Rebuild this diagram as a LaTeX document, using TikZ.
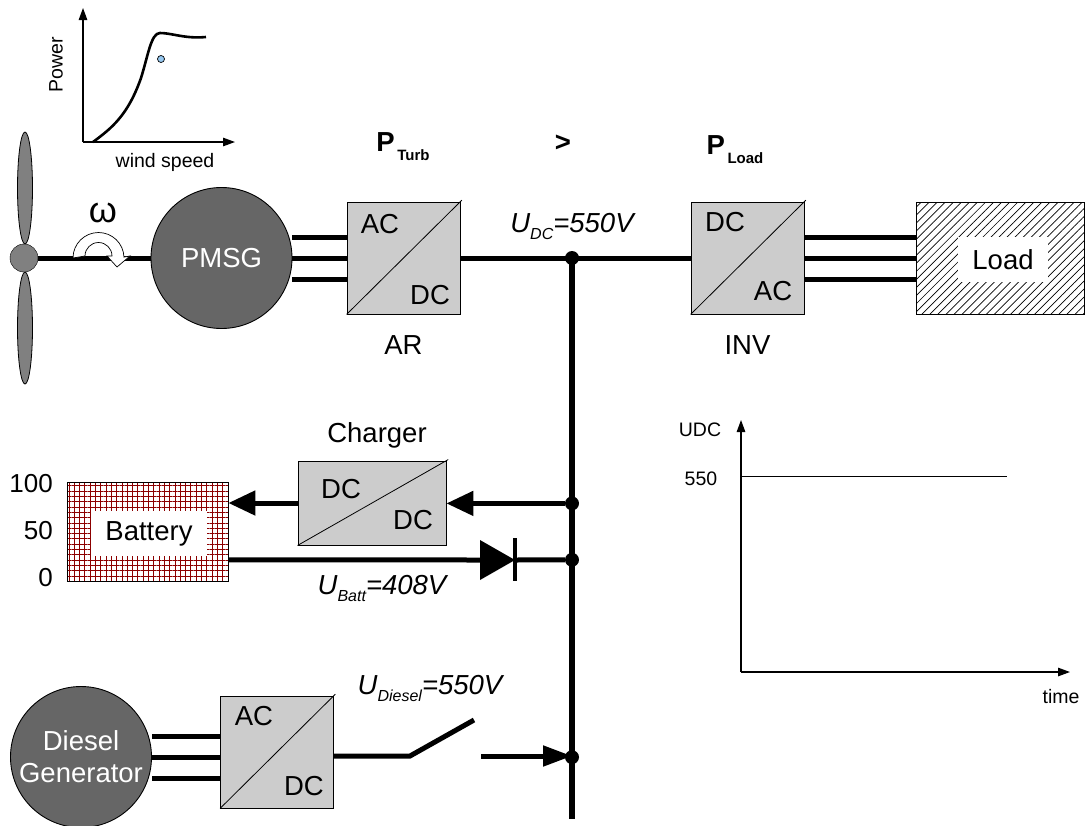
\documentclass[tikz,border=0pt]{standalone}
\usepackage{fontspec}
\setmainfont{Liberation Sans}
\usetikzlibrary{arrows.meta,patterns.meta,backgrounds,positioning}
\definecolor{mppblue}{RGB}{150,200,240}
\newcommand{\bigtxt}{\fontsize{27.5}{32}\selectfont}
\newcommand{\smalltxt}{\fontsize{19.5}{23}\selectfont}
\newcommand{\voltlbl}[3]{{\bigtxt\itshape #1\raisebox{-7pt}{\fontsize{16}{18}\selectfont #2}#3}}
\newcommand{\powerlbl}[2]{{\bfseries\bigtxt #1\raisebox{-9pt}{\fontsize{15}{18}\selectfont\,#2}}}

\begin{document}
\begin{tikzpicture}[
x=1pt,y=-1pt,
conv/.style={rectangle, draw, fill=black!20, line width=0.9pt, inner sep=0pt, minimum width=113pt, minimum height=112pt},
machine/.style={circle, draw, fill=black!60, line width=0.9pt, inner sep=0pt, minimum size=141pt, text=white, align=center, font=\bigtxt},
blade/.style={draw, fill=black!50, line width=0.8pt},
wire/.style={line width=5pt},
power/.style={line width=5pt, arrows={-Triangle[length=27pt,width=24pt]}},
junction/.style={circle, fill=black, inner sep=0pt, minimum size=14pt},
axis/.style={line width=1.2pt, arrows={-Triangle[length=12pt,width=8.5pt]}},
txt/.style={inner sep=0pt, font=\bigtxt},
small/.style={inner sep=0pt, font=\smalltxt}]
\useasboundingbox (0,0) rectangle (1086,825);
% Turbine
\fill[blade] (25,188) ellipse [x radius=7.5, y radius=56];
\fill[blade] (25,328) ellipse [x radius=7.5, y radius=56];
\node[circle, draw, fill=black!50, inner sep=0pt, minimum size=28pt] (hub) at (24,258) {};
\node[machine] (pmsg) at (221.5,258) {PMSG};
\node[conv] (ar) at (403.5,258) {};
\node[conv] (inv) at (747.5,258) {};
\node[rectangle, draw, line width=0.9pt, pattern={Lines[angle=45,distance=5.7pt,line width=0.7pt]}, inner sep=0pt, minimum width=168pt, minimum height=112pt] (load) at (1000,258) {};
\node[txt, fill=white, minimum width=90pt, minimum height=45pt] (loadname) at (1003,259.5) {Load};
% DC bus
\node[junction] (j1) at (572,258) {};
\node[junction] (j2) [below=231pt of j1] {};
\node[junction] (j3) [below=42pt of j2] {};
\node[junction] (j4) [below=183pt of j3] {};
\coordinate (busend) at (572,819);
\draw[line width=6pt] (j1.center) -- (busend);
% Battery and charger
\node[conv, minimum width=148pt, minimum height=84pt] (chg) at (372,503) {};
\node[rectangle, draw, line width=0.9pt, pattern={Hatch[angle=0,distance=5.3pt,line width=0.8pt]}, pattern color=red!55!black, inner sep=0pt, minimum width=161pt, minimum height=99pt] (bat) at (147.5,531.5) {};
\node[txt, fill=white, minimum width=116pt, minimum height=45pt] (batname) at (149,533.5) {Battery};
% Diesel
\node[machine] (gen) at (81,757) {Diesel\\Generator};
\node[conv] (dcv) at (277,752) {};
\coordinate (sw1) at (410,756);
\coordinate (sw2) at (474,720);
\coordinate (sw3) at (481,756);
% Diode
\coordinate (dioa) at (480,560);
\coordinate (diok) at (515,560);
% Lines
\foreach \dy in {-21,0,21} {
  \draw[wire] ([yshift=\dy pt]ar.west -| pmsg.east) -- ([yshift=\dy pt]ar.west);
  \draw[wire] ([yshift=\dy pt]inv.east) -- ([yshift=\dy pt]load.west);
  \draw[wire] ([yshift=\dy pt]dcv.west |- gen.center) -- ([yshift=\dy pt]gen.east);
}
\begin{scope}[on background layer]
\draw[wire] (hub) -- (pmsg);
\end{scope}
\draw[wire] (ar) -- (inv);
\draw[power] (j2) -- (chg.east |- j2);
\draw[power] (chg.west) -- (bat.east |- chg.west);
\draw[wire] (bat.east |- j3) -- (dioa);
\draw[wire] (diok) -- (j3);
\fill (480,540) -- (diok) -- (480,580) -- cycle;
\draw[line width=4pt] (515,538) -- (515,581);
\draw[wire] (dcv.east |- sw1) -- (sw1) -- (sw2);
\draw[power, arrows={-Triangle[length=29pt,width=20pt]}] (sw3) -- (sw3 -| j4);
% Diagonals
\foreach \c in {ar,inv,chg,dcv}
  \draw[line width=0.8pt, shorten >=-2pt] (\c.south west) -- (\c.north east);
% Rotation arrow
\draw[fill=white, line width=0.7pt] (73,258) arc [start angle=180, end angle=358, radius=25.5] -- (130,256) -- (117,267) -- (107,256) -- (112,256) arc [start angle=360, end angle=180, radius=13.5] -- cycle;
\node[inner sep=0pt, font=\fontsize{36}{40}\selectfont] (omega) at (103,213) {ω};
% Converter texts
\node[txt] (arac) at (380,224) {AC};
\node[txt] (ardc) at (430,295) {DC};
\node[txt] (invdc) at (725,222) {DC};
\node[txt] (invac) at (773,291) {AC};
\node[txt] (chg1) at (341,489) {DC};
\node[txt] (chg2) at (413,520) {DC};
\node[txt] (dcvac) at (254,716) {AC};
\node[txt] (dcvdc) at (304,786) {DC};
\node[txt] (arname) [below=21pt of ar] {AR};
\node[txt] (invname) [below=21pt of inv] {INV};
\node[txt] (chgname) at (377,435) {Charger};
\node[txt, anchor=east, font=\fontsize{26}{30}\selectfont] (s100) at (53,484) {100};
\node[txt, anchor=east, font=\fontsize{26}{30}\selectfont] (s50) at (53,531) {50};
\node[txt, anchor=east, font=\fontsize{26}{30}\selectfont] (s0) at (53,578) {0};
% Power and voltage labels
\node[txt] (pturb) at (403,147) {\powerlbl{P}{Turb}};
\node[txt] (gt) at (563,143) {\bfseries >};
\node[txt] (pload) at (735,150) {\powerlbl{P}{Load}};
\node[txt] (udc) at (572,226) {\voltlbl{U}{DC}{=550V}};
\node[txt] (ubatt) at (382,588) {\voltlbl{U}{Batt}{=408V}};
\node[txt] (udiesel) at (430,688) {\voltlbl{U}{Diesel}{=550V}};
% Turbine curve
\coordinate (o1) at (83,142);
\coordinate (y1) at (83,8);
\coordinate (x1) at (235,142);
\draw[axis] (o1) -- (y1);
\draw[axis] (o1) -- (x1);
\draw[line width=2.6pt] (93,142) .. controls (112,128) and (128,115) .. (141,78) .. controls (148,56) and (151,33) .. (160,33) .. controls (172,33) and (185,39) .. (206,37);
\node[circle, draw, fill=mppblue, line width=0.7pt, inner sep=0pt, minimum size=7pt] (mpp) at (161,59) {};
\node[small, rotate=90] (powername) at (56,65) {Power};
\node[small] (windname) at (165,162) {wind speed};
% Voltage chart
\coordinate (o2) at (741,672);
\coordinate (y2) at (741,420);
\coordinate (x2) at (1070,672);
\coordinate (v1) at (741,476);
\coordinate (v2) at (1007,476);
\draw[axis] (o2) -- (y2);
\draw[axis] (o2) -- (x2);
\draw[line width=0.8pt] (v1) -- (v2);
\node[small] (udcname) at (700,430) {UDC};
\node[small] (v550) at (701,479) {550};
\node[small] (timename) at (1061,697) {time};
\end{tikzpicture}
\end{document}
